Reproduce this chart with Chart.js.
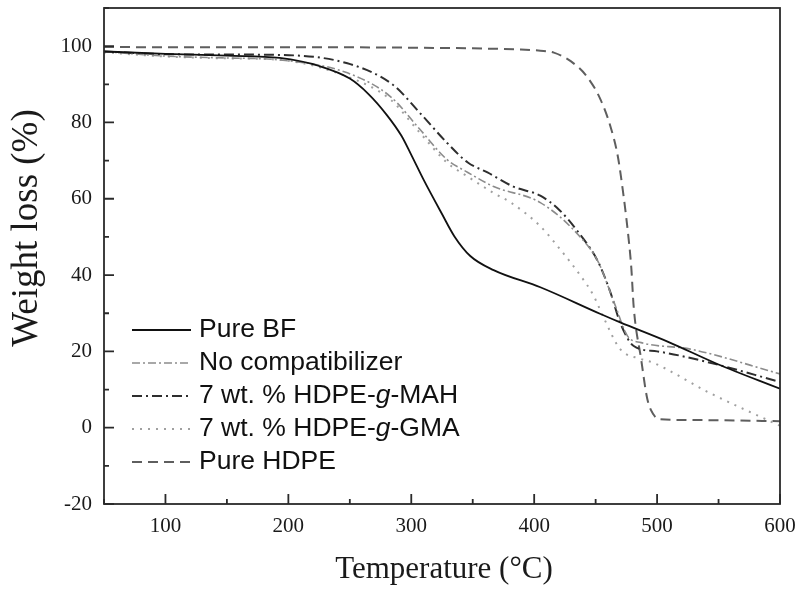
<!DOCTYPE html>
<html>
<head>
<meta charset="utf-8">
<script src="https://cdn.jsdelivr.net/npm/chart.js@4.4.1/dist/chart.umd.min.js"></script>
<style>
    html, body { margin: 0; padding: 0; background: #fff; }
    #wrap { width: 796px; height: 589px; }
</style>
</head>
<body>
<div id="wrap"><canvas id="tga" width="796" height="589"></canvas></div>
<script>
// Values: temperature (°C) and remaining weight (%)
const bfTemp = [50, 100, 150, 193, 225, 250, 265, 280, 292, 300, 310, 325, 335, 348, 367, 405, 454, 470, 509, 549, 600];
const bfWeight = [98.6, 98.0, 97.5, 96.9, 94.8, 91.5, 87.5, 82.0, 76.5, 71.5, 65.0, 56.0, 50.2, 45.0, 41.3, 36.8, 29.8, 27.6, 22.5, 16.7, 10.2];

const noCompTemp = [50, 100, 150, 193, 248, 283, 307, 329, 346, 367, 405, 436, 452, 466, 476, 487, 527, 600];
const noCompWeight = [98.6, 97.4, 96.9, 96.4, 93.0, 86.8, 78.2, 70.3, 66.9, 63.2, 59.0, 50.5, 43.5, 32.0, 24.0, 22.3, 20.6, 14.1];

const mahTemp = [50, 100, 150, 193, 248, 285, 307, 329, 346, 362, 383, 405, 420, 436, 452, 462, 470, 481, 500, 541, 600];
const mahWeight = [98.6, 97.9, 97.8, 97.7, 95.5, 89.9, 82.5, 74.7, 69.5, 66.9, 63.2, 60.8, 57.2, 51.2, 43.5, 35.5, 27.5, 21.4, 20.0, 17.2, 12.0];

const gmaTemp = [50, 100, 150, 193, 248, 283, 307, 329, 346, 367, 381, 405, 421, 438, 448, 457, 470, 487, 497, 541, 600];
const gmaWeight = [98.4, 97.3, 96.8, 96.4, 92.0, 86.0, 77.3, 69.5, 65.8, 61.5, 59.0, 52.8, 46.8, 39.7, 34.8, 28.5, 20.6, 18.0, 17.0, 9.4, 0.5];

const hdpeTemp = [50, 100, 200, 300, 389, 405, 416, 430, 443, 454, 462, 468, 472, 476, 479, 481, 487, 492, 497, 502, 530, 600];
const hdpeWeight = [99.8, 99.7, 99.7, 99.6, 99.1, 98.8, 98.3, 96.0, 92.0, 86.0, 79.0, 71.2, 62.5, 52.0, 42.0, 31.5, 18.0, 7.6, 3.5, 2.2, 2.0, 1.7];

const seriesLabels = ['Pure BF', 'No compatibilizer', '7 wt. % HDPE-g-MAH', '7 wt. % HDPE-g-GMA', 'Pure HDPE'];
const xTitle = 'Temperature (°C)';
const yTitle = 'Weight loss (%)';

function pts(t, w) {
    return t.map((v, i) => ({ x: v, y: w[i] }));
}

const serif = '"Liberation Serif", "Times New Roman", serif';
const sans = '"Liberation Sans", Arial, sans-serif';

// box round the plot plus inward ticks, major longer than minor
const frame = {
    id: 'frame',
    afterDatasetsDraw(chart) {
        const { ctx, chartArea: a, scales: { x, y } } = chart;
        ctx.save();
        ctx.strokeStyle = '#2a2a2a';
        ctx.lineWidth = 1.8;
        ctx.strokeRect(a.left, a.top, a.right - a.left, a.bottom - a.top);
        ctx.beginPath();
        x.ticks.forEach((t) => {
            const px = x.getPixelForValue(t.value);
            const len = t.value % 100 === 0 ? 10 : 5;
            ctx.moveTo(px, a.bottom);
            ctx.lineTo(px, a.bottom - len);
        });
        y.ticks.forEach((t) => {
            const py = y.getPixelForValue(t.value);
            const len = t.value % 20 === 0 ? 10 : 5;
            ctx.moveTo(a.left, py);
            ctx.lineTo(a.left + len, py);
        });
        ctx.stroke();

        // axis titles (the y one sits above the middle of the axis)
        ctx.fillStyle = '#1a1a1a';
        ctx.textAlign = 'center';
        ctx.textBaseline = 'alphabetic';
        ctx.font = '31px ' + serif;
        ctx.fillText(xTitle, (a.left + a.right) / 2 + 2, 578);
        ctx.translate(37, 228);
        ctx.rotate(-Math.PI / 2);
        ctx.font = '37px ' + serif;
        ctx.fillText(yTitle, 0, 0);
        ctx.restore();
    },
};

// legend inside the plot, with the italic g
const insideLegend = {
    id: 'insideLegend',
    afterDatasetsDraw(chart) {
        const ctx = chart.ctx;
        const x0 = 132, x1 = 191, tx = 199, y0 = 330, step = 33;
        ctx.save();
        chart.data.datasets.forEach((ds, i) => {
            const yy = y0 + i * step;
            ctx.strokeStyle = ds.borderColor;
            ctx.lineWidth = ds.borderWidth;
            ctx.setLineDash(ds.borderDash || []);
            ctx.beginPath();
            ctx.moveTo(x0, yy);
            ctx.lineTo(x1, yy);
            ctx.stroke();
            ctx.setLineDash([]);

            ctx.fillStyle = '#111';
            ctx.textBaseline = 'middle';
            ctx.textAlign = 'left';
            const normal = '26.5px ' + sans;
            const italic = 'italic 26.5px ' + sans;
            const parts = ds.label.split('-g-');
            let cx = tx;
            if (parts.length === 2) {
                const segs = [[parts[0] + '-', normal], ['g', italic], ['-' + parts[1], normal]];
                segs.forEach(([s, f]) => {
                    ctx.font = f;
                    ctx.fillText(s, cx, yy);
                    cx += ctx.measureText(s).width;
                });
            } else {
                ctx.font = normal;
                ctx.fillText(ds.label, cx, yy);
            }
        });
        ctx.restore();
    },
};

new Chart(document.getElementById('tga'), {
    type: 'line',
    data: {
        datasets: [
            {
                label: seriesLabels[0],
                data: pts(bfTemp, bfWeight),
                borderColor: '#111111',
                borderWidth: 1.8,
            },
            {
                label: seriesLabels[1],
                data: pts(noCompTemp, noCompWeight),
                borderColor: '#8c8c8c',
                borderWidth: 1.6,
                borderDash: [8, 3, 2, 3],
            },
            {
                label: seriesLabels[2],
                data: pts(mahTemp, mahWeight),
                borderColor: '#2e2e2e',
                borderWidth: 2,
                borderDash: [10, 4, 2, 4],
            },
            {
                label: seriesLabels[3],
                data: pts(gmaTemp, gmaWeight),
                borderColor: '#a0a0a0',
                borderWidth: 2,
                borderDash: [2, 6],
            },
            {
                label: seriesLabels[4],
                data: pts(hdpeTemp, hdpeWeight),
                borderColor: '#5e5e5e',
                borderWidth: 2,
                borderDash: [10, 6],
            },
        ],
    },
    options: {
        responsive: false,
        animation: false,
        events: [],
        layout: {
            padding: { top: 8, right: 16, left: 0, bottom: 0 },
        },
        datasets: {
            line: {
                pointRadius: 0,
                fill: false,
                cubicInterpolationMode: 'monotone',
            },
        },
        scales: {
            x: {
                type: 'linear',
                min: 50,
                max: 600,
                border: { display: false },
                grid: { display: false, drawTicks: false },
                ticks: {
                    stepSize: 50,
                    autoSkip: false,
                    maxRotation: 0,
                    padding: 10,
                    color: '#1a1a1a',
                    font: { family: serif, size: 21 },
                    callback: (v) => (v % 100 === 0 ? v : ''),
                },
                afterFit: (scale) => {
                    scale.height = 85;
                    scale.paddingLeft = 0;
                    scale.paddingRight = 0;
                },
            },
            y: {
                min: -20,
                max: 110,
                border: { display: false },
                grid: { display: false, drawTicks: false },
                ticks: {
                    stepSize: 10,
                    autoSkip: false,
                    padding: 12,
                    color: '#1a1a1a',
                    font: { family: serif, size: 21 },
                    callback: (v) => (v % 20 === 0 ? v : ''),
                },
                afterFit: (scale) => {
                    scale.width = 104;
                    scale.paddingTop = 0;
                    scale.paddingBottom = 0;
                },
            },
        },
        plugins: {
            legend: { display: false },
            tooltip: { enabled: false },
        },
    },
    plugins: [frame, insideLegend],
});
</script>
</body>
</html>
